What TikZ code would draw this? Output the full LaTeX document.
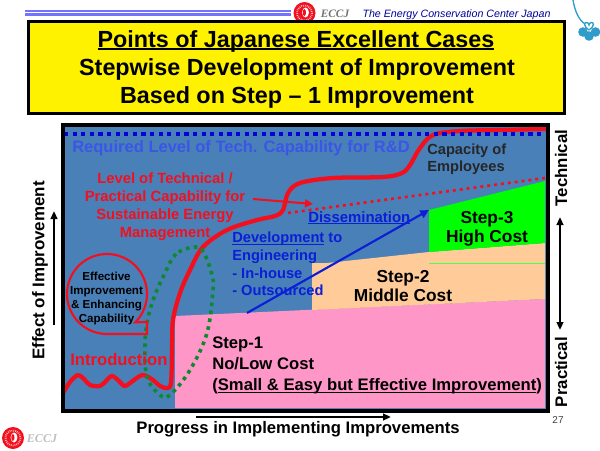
\documentclass[tikz,border=0pt]{standalone}
\usepackage{fontspec}
\setmainfont{Liberation Sans}
\newfontfamily\serifit{Liberation Serif}
\usetikzlibrary{arrows.meta}
\newcommand\fs[1]{\fontsize{#1}{#1}\selectfont}
\newcommand\fb[2]{\bfseries\fontsize{#1}{#2}\selectfont}
\newsavebox\ulbox
\newcommand\ulx[3]{\sbox\ulbox{#3}\leavevmode\rlap{\rule[#1]{\wd\ulbox}{#2}}\usebox\ulbox}
\definecolor{panelblue}{HTML}{4A80B8}
\definecolor{reqblue}{HTML}{3B55E6}
\definecolor{devblue}{HTML}{0A1FD6}
\definecolor{pinkarea}{HTML}{FF96C8}
\definecolor{orangearea}{HTML}{FFCC99}
\definecolor{dgreen}{HTML}{0B8A2E}
\definecolor{redc}{HTML}{F2101E}
\definecolor{clover}{HTML}{2F9CCB}
\tikzset{
 lbl/.style={inner sep=0pt},
 axisarrow/.style={line width=1.5pt,-{Triangle[length=6pt,width=5pt]}},
 ringlogo/.style={fill=redc,draw=none},
}
\begin{document}
\begin{tikzpicture}[x=0.75pt,y=-0.75pt]
\useasboundingbox (0,0) rectangle (600,450);
\fill[white] (0,0) rectangle (600,450);
% header rules
\fill[blue!55!white] (25,10) rectangle (291,15.5);
\draw[white,line width=.6pt] (25,12.7) -- (291,12.7);
% top logo
\fill[ringlogo] (304.5,13) circle (11);
\draw[white!70!redc,line width=1.4pt,dash pattern=on .6pt off .8pt] (304.5,13) circle (7.5);
\fill[white] (305.5,12.5) ellipse (3.4 and 5);
\fill[redc] (304.4,12.5) ellipse (1.6 and 3.4);
\node[inner sep=0pt,text=black!55] (eccjtop) at (335,14) {\serifit\bfseries\itshape\fs{8.5}ECCJ};
\node[inner sep=0pt,text=blue!60!black,font=\itshape] (ecctitle) at (456.5,14.5) {\fs{8}The Energy Conservation Center Japan};
% clover
\draw[clover,line width=1pt] (573,0) .. controls (575,12) and (579,20) .. (585,24);
\foreach \cx/\cy in {583/32,595.5/32,589/36}{\fill[clover] (\cx,\cy) circle (4.8);}
\draw[clover,line width=1pt,fill=white] (589,30) .. controls (583,26) and (584,22) .. (587,22.5) .. controls (588,22.5) and (589,24) .. (589,25) .. controls (589,24) and (590,22.5) .. (591,22.5) .. controls (594,22) and (595,26) .. (589,30);
% title box
\node[draw=black,fill=yellow,line width=2pt,minimum width=536.5*.75pt,minimum height=92*.75pt,inner sep=0pt] (titlebox) at (296.5,67.5) {};
\node[lbl,font=\fb{17.5}{20}] (t1) at (296,41) {\ulx{-2pt}{1pt}{Points of Japanese Excellent Cases}};
\node[lbl,font=\fb{17.5}{20}] (t2) at (297,69) {Stepwise Development of Improvement};
\node[lbl,font=\fb{17.5}{20}] (t3) at (297,97) {Based on Step – 1 Improvement};
% panel
\fill[panelblue] (63,125) rectangle (548,411);
\fill[pinkarea] (175,316) -- (545,299) -- (545,408) -- (175,408) -- cycle;
\fill[orangearea] (312,263) -- (327,263) -- (429,252) -- (545,243) -- (545,299) -- (312,310) -- cycle;
\draw[green!70!white,line width=.5pt] (429,263) -- (545,263);
\fill[green] (429,210) -- (545,181) -- (545,243) -- (429,252) -- cycle;
% red curve
\draw[redc,line width=3.2pt,line cap=round,line join=round] plot[smooth,tension=.55] coordinates {(63,393)(70,382)(78,375)(84,379)(90,385)(100,386)(106,381)(112,376)(119,381)(125,386)(134,380)(143,375)(153,380)(160,386)(167,388)(171,383)(172,350)(173,320)(180,293)(190,270)(203,247)(227,230)(257,220)(275,216)(283,210)(288,193)(300,183)(333,178)(383,177)(402,173)(410,165)(420,148)(433,135)(460,131)(500,130)(546,129)};
% required level dotted
\draw[blue!85!black,line width=3.2pt,dash pattern=on 3.2pt off 3.25pt] (64,134) -- (547,134);
\draw[redc,line width=2pt,dash pattern=on 2.2pt off 3pt] (288,213) -- (545,178);
% green dotted
\draw[dgreen,line width=2.7pt,dash pattern=on 2.7pt off 3.3pt] plot[smooth cycle,tension=.6] coordinates {(195,247)(176,254)(165,273)(155,295)(148,318)(145,343)(147,377)(160,395)(170,395)(190,370)(207,333)(213,290)(212,275)(204,253)};
% callout
\draw[redc,line width=1.6pt,line join=miter] plot[domain=90:405,samples=70] ({107+40*cos(\x)},{294+40*sin(\x)}) -- (147,322) -- (147,334) -- (107,334);
% texts
\node[lbl,font=\fb{12.4}{15},text=reqblue,anchor=west] (req) at (72,148) {Required Level of Tech. Capability for R\&D};
\node[lbl,font=\fb{11.1}{13.5},text=redc,align=center] (levelcap) at (165,207) {Level of Technical /\\Practical Capability for\\Sustainable Energy\\Management};
\node[lbl,font=\fb{11}{13},text=black!85,align=left,anchor=west] (capac) at (427,159.5) {Capacity of\\Employees};
\node[lbl,font=\fb{11.2}{13},text=devblue,anchor=west] (diss) at (308,218) {\ulx{-1.5pt}{.7pt}{Dissemination}};
\node[lbl,font=\fb{11}{13.2},text=devblue,align=left,anchor=west] (dev) at (232,264) {\ulx{-1.5pt}{.7pt}{Development} to\\Engineering\\- In-house\\- Outsourced};
\node[lbl,font=\fb{13}{14.25},align=center] (s3) at (487,229) {Step-3\\High Cost};
\node[lbl,font=\fb{13}{14.25},align=center] (s2) at (403,286.5) {Step-2\\Middle Cost};
\node[lbl,font=\fb{12.5}{16},align=left,anchor=west] (s1) at (212,365.5) {Step-1\\No/Low Cost\\(\ulx{-1.5pt}{.7pt}{Small \& Easy but Effective Improvement})};
\node[lbl,font=\fb{12.5}{15},text=redc,anchor=west] (intro) at (70,360) {Introduction};
\node[lbl,font=\fb{8.7}{10.5},align=center] (effect) at (106.5,298) {Effective\\Improvement\\\& Enhancing\\Capability};
\node[lbl,font=\fb{12.7}{15},rotate=90] (yaxis) at (40,270.5) {Effect of Improvement};
\node[lbl,font=\fb{12.5}{15}] (xaxis) at (298,429) {Progress in Implementing Improvements};
\node[lbl,font=\fb{12.6}{15},rotate=90] (tech) at (561,168) {Technical};
\node[lbl,font=\fb{12.6}{15},rotate=90] (prac) at (561,372) {Practical};
\node[inner sep=0pt,text=black!75] (page) at (558,420) {\fs{7.5}27};
% connectors
\coordinate (redfrom) at (253,199); \coordinate (redto) at (313,204);
\draw[redc,line width=1.5pt,-{Triangle[length=6pt,width=6pt]}] (redfrom) -- (redto);
\coordinate (bluefrom) at (247,313); \coordinate (blueto) at (429,210);
\draw[devblue,line width=1.6pt,-{Triangle[length=6.5pt,width=6pt]}] (bluefrom) -- (blueto);
\coordinate (yfrom) at (54,325); \coordinate (yto) at (54,211);
\draw[axisarrow] (yfrom) -- (yto);
\coordinate (xfrom) at (196,417); \coordinate (xto) at (391,417);
\draw[axisarrow] (xfrom) -- (xto);
\coordinate (ra) at (560,217); \coordinate (rb) at (560,330);
\draw[line width=1.5pt,{Triangle[length=6pt,width=5pt]}-{Triangle[length=6pt,width=5pt]}] (ra) -- (rb);
% panel border
\draw[black,line width=2.4pt] (63,125) rectangle (548,411);
% bottom logo
\fill[ringlogo] (13,438) circle (11);
\draw[white!70!redc,line width=1.4pt,dash pattern=on .6pt off .8pt] (13,438) circle (7.5);
\fill[white] (14,437.5) ellipse (3.4 and 5);
\fill[redc] (12.9,437.5) ellipse (1.6 and 3.4);
\node[inner sep=0pt,text=black!25] (eccjbot) at (42,439) {\serifit\bfseries\itshape\fs{9}ECCJ};
\end{tikzpicture}
\end{document}
